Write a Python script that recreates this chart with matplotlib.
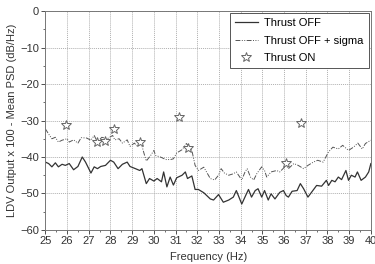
import numpy as np
import matplotlib.pyplot as plt
from matplotlib.ticker import MultipleLocator

plt.rcParams['font.family'] = ['Liberation Sans', 'DejaVu Sans']

# Thrust OFF (mean PSD)
off_freq = [25.0, 25.15, 25.3, 25.46, 25.6, 25.77, 25.92, 26.1, 26.3, 26.5, 26.7, 26.85,
            27.1, 27.25, 27.4, 27.55, 27.77, 28.0, 28.15, 28.35, 28.55, 28.77, 28.9, 29.15,
            29.35, 29.45, 29.65, 29.8, 30.0, 30.15, 30.35, 30.45, 30.6, 30.75, 30.9, 31.05,
            31.3, 31.45, 31.55, 31.75, 31.9, 32.05, 32.3, 32.6, 32.75, 32.98, 33.2, 33.45,
            33.66, 33.8, 34.05, 34.25, 34.36, 34.5, 34.67, 34.8, 34.97, 35.1, 35.27, 35.4,
            35.58, 35.8, 35.97, 36.1, 36.2, 36.37, 36.6, 36.75, 36.9, 37.1, 37.3, 37.5,
            37.73, 37.95, 38.05, 38.2, 38.35, 38.5, 38.65, 38.85, 38.97, 39.1, 39.27, 39.38,
            39.55, 39.75, 39.9, 40.0]
off_psd = [-41.4, -41.8, -42.7, -41.6, -42.7, -42.0, -42.3, -41.8, -43.5, -42.6, -40.0, -41.4,
           -44.4, -42.7, -43.2, -42.6, -42.3, -40.9, -41.4, -43.2, -42.0, -41.4, -42.6, -43.2,
           -43.7, -43.2, -47.3, -45.9, -46.6, -45.9, -46.8, -44.1, -48.2, -45.5, -47.7, -45.7,
           -45.0, -44.1, -45.9, -45.2, -48.9, -48.9, -49.8, -51.5, -51.8, -50.3, -52.4, -51.8,
           -51.0, -49.2, -52.9, -50.3, -48.9, -51.0, -49.2, -48.7, -51.0, -49.2, -51.8, -50.1,
           -51.5, -49.7, -49.2, -50.6, -51.0, -49.4, -49.2, -47.3, -48.7, -51.0, -49.4, -47.8,
           -48.0, -46.4, -47.8, -46.4, -46.8, -45.5, -46.2, -43.7, -46.4, -45.0, -45.5, -44.1,
           -46.4, -45.5, -44.1, -41.8]

# Thrust OFF + sigma
sig_freq = [25.0, 25.15, 25.3, 25.46, 25.6, 25.77, 26.0, 26.1, 26.3, 26.5, 26.65, 26.9,
            27.1, 27.25, 27.4, 27.6, 27.85, 28.1, 28.2, 28.4, 28.55, 28.77, 28.9, 29.1,
            29.25, 29.4, 29.55, 29.65, 29.85, 30.0, 30.08, 30.3, 30.55, 30.77, 30.9, 31.05,
            31.3, 31.5, 31.75, 31.9, 32.05, 32.3, 32.6, 32.8, 32.98, 33.1, 33.25, 33.45,
            33.66, 33.8, 34.05, 34.2, 34.3, 34.45, 34.6, 34.75, 34.97, 35.1, 35.2, 35.4,
            35.66, 35.8, 36.1, 36.2, 36.45, 36.65, 36.9, 37.1, 37.35, 37.55, 37.8, 38.05,
            38.25, 38.5, 38.7, 38.97, 39.2, 39.4, 39.6, 39.75, 40.0]
sig_psd = [-32.3, -33.7, -35.0, -34.6, -35.9, -35.4, -35.0, -35.9, -35.3, -36.2, -34.7, -34.8,
           -35.4, -34.1, -35.9, -34.6, -35.0, -34.1, -35.3, -35.0, -36.2, -35.3, -37.1, -36.2,
           -37.1, -35.9, -39.1, -41.1, -39.6, -38.2, -39.6, -40.0, -40.7, -40.7, -40.5, -38.9,
           -38.0, -36.3, -38.2, -42.3, -43.7, -42.8, -45.9, -46.3, -45.0, -43.2, -44.4, -45.0,
           -44.6, -44.1, -46.3, -44.1, -43.2, -45.5, -46.3, -44.5, -42.7, -43.7, -45.5, -44.1,
           -43.7, -44.1, -42.3, -43.2, -41.8, -42.3, -43.2, -42.3, -41.4, -40.9, -41.4, -38.6,
           -37.3, -37.8, -36.8, -38.2, -37.3, -36.2, -37.8, -36.3, -35.4]

# Thrust ON
on_freq = [25.96, 27.37, 27.77, 28.18, 29.37, 31.18, 31.57, 36.08, 36.8]
on_psd = [-31.3, -35.9, -35.6, -32.2, -35.9, -29.0, -37.6, -41.6, -30.8]

fig = plt.figure(figsize=(3.75, 2.64), dpi=100)
ax = fig.add_axes([0.121, 0.129, 0.868, 0.829])

ax.plot(off_freq, off_psd, color='#333333', lw=0.9, label='Thrust OFF')
ax.plot(sig_freq, sig_psd, color='#555555', lw=0.7, dashes=[5, 1.5, 1, 1.5, 1, 1.5],
        label='Thrust OFF + sigma')
ax.plot(on_freq, on_psd, ls='none', marker='*', ms=7.5, mfc='white', mec='#666666',
        mew=0.7, label='Thrust ON')

ax.set_xlim(25, 40)
ax.set_ylim(-60, 0)
ax.xaxis.set_major_locator(MultipleLocator(1))
ax.xaxis.set_minor_locator(MultipleLocator(0.5))
ax.yaxis.set_major_locator(MultipleLocator(10))
ax.yaxis.set_minor_locator(MultipleLocator(5))
ax.grid(True, which='major', color='#b0b0b0', ls=(0, (1, 1)), lw=0.7)
ax.tick_params(which='both', direction='out', labelsize=8, colors='#333333', pad=1.5)
ax.tick_params(which='major', length=3, width=0.6)
ax.tick_params(which='minor', length=1.5, width=0.5)
for s in ax.spines.values():
    s.set_color('#777777')
    s.set_linewidth(0.7)

ax.set_xlabel('Frequency (Hz)', fontsize=8, color='#333333', labelpad=4)
ax.set_ylabel('LDV Output x 100 - Mean PSD (dB/Hz)', fontsize=8, color='#333333', labelpad=2)

leg = ax.legend(loc='upper right', fontsize=8, fancybox=False, framealpha=1,
                edgecolor='#555555', handlelength=2.0, borderaxespad=0.15,
                labelspacing=0.65, borderpad=0.5, handletextpad=0.6)
leg.get_frame().set_linewidth(0.7)

fig.savefig('out.png', dpi=100)
